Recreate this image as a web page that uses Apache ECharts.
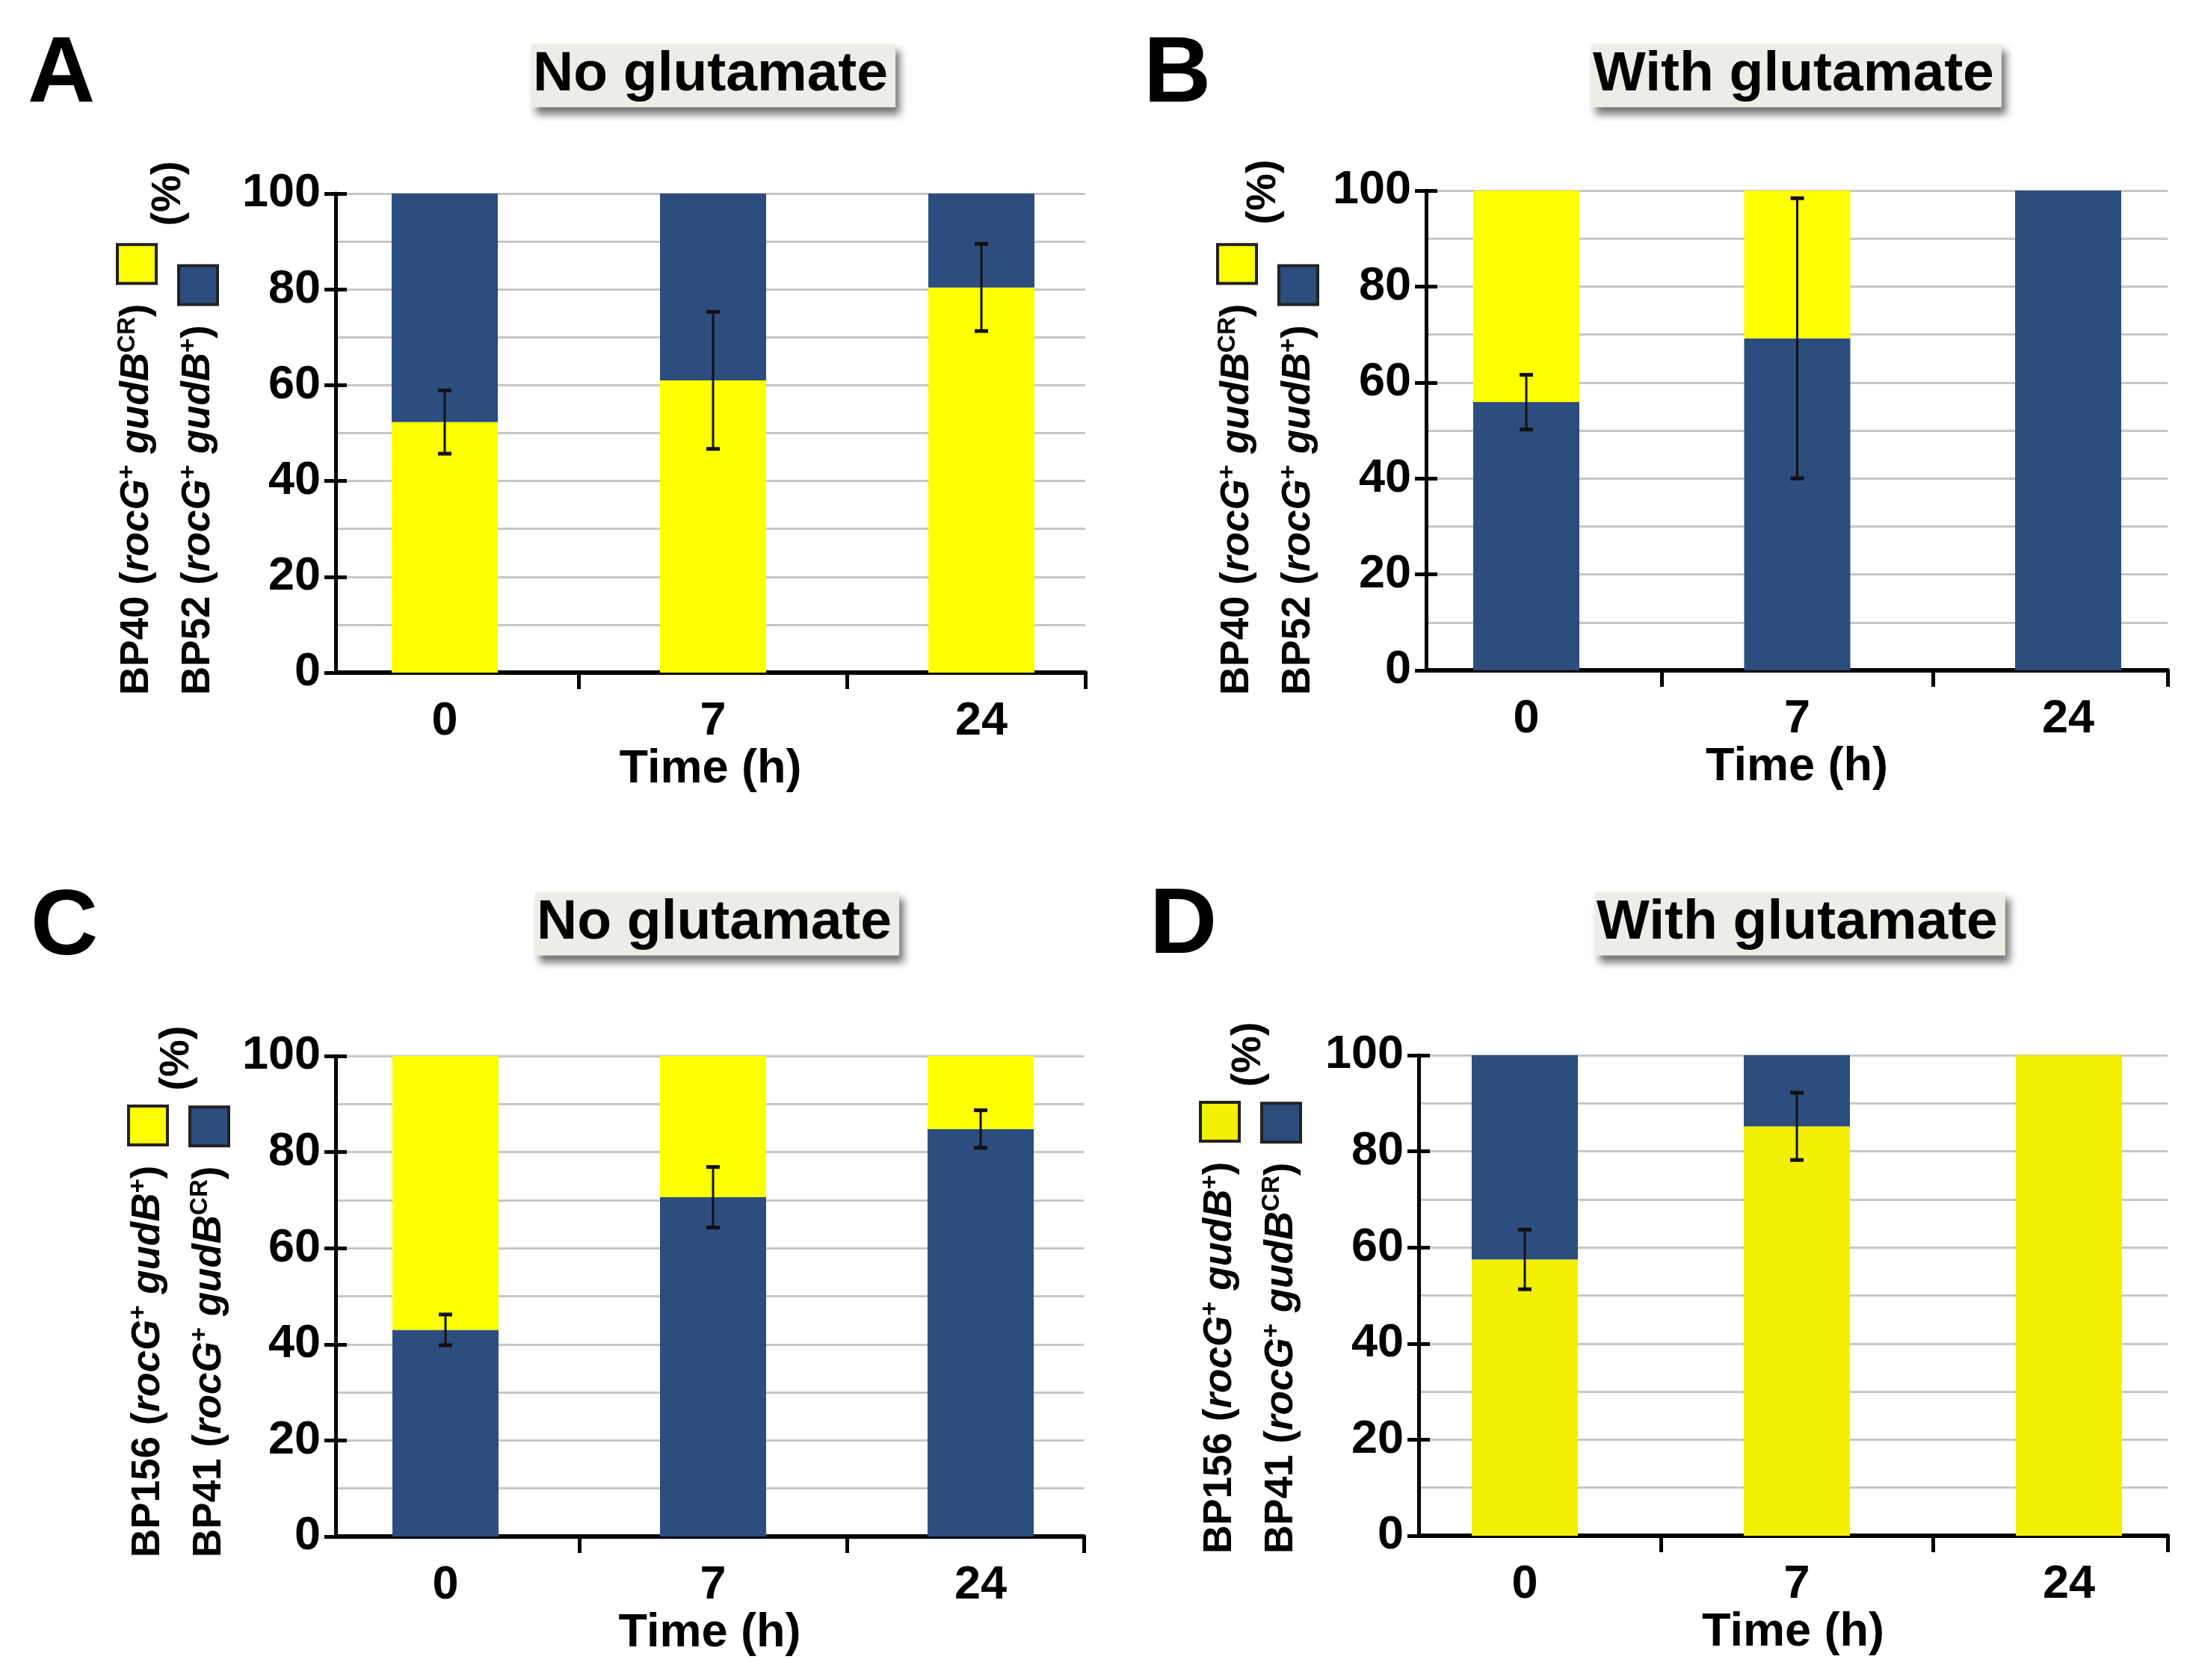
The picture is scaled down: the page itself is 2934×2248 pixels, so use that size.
<!DOCTYPE html>
<html><head><meta charset="utf-8">
<script src="https://cdn.jsdelivr.net/npm/echarts@6/dist/echarts.min.js"></script>
<style>html,body{margin:0;padding:0;background:#fff}#c{width:2934px;height:2248px}</style>
</head><body><div id="c"></div><script>
// ---------- data ----------
const times = ['0', '7', '24'];

// A: No glutamate — BP40 (yellow, bottom) / BP52 (blue, top)
const aBP40 = [52.3, 61.0, 80.4];
const aBP52 = [47.7, 39.0, 19.6];
const aErr  = [6.6, 14.3, 9.1];

// B: With glutamate — BP52 (blue, bottom) / BP40 (yellow, top)
const bBP52 = [55.9, 69.2, 100];
const bBP40 = [44.1, 30.8, 0];
const bErr  = [5.7, 29.2, null];

// C: No glutamate — BP41 (blue, bottom) / BP156 (yellow, top)
const cBP41  = [43.0, 70.6, 84.8];
const cBP156 = [57.0, 29.4, 15.2];
const cErr   = [3.2, 6.3, 3.9];

// D: With glutamate — BP156 (yellow, bottom) / BP41 (blue, top)
const dBP156 = [57.5, 85.2, 100];
const dBP41  = [42.5, 14.8, 0];
const dErr   = [6.2, 7.0, null];

// ---------- styling ----------
const F = '"Liberation Sans", Arial, sans-serif';
const YEL = '#FFFF00', YEL_D = '#F3EF05', BLU = '#2C4D7E';
const GRIDC = '#C6C6C6';
const BAR_W = 142;

const panels = [
  {letter:'A', lx:37,  ly:39,   title:'No glutamate',   tx:711,  ty:60,
   grid:{left:449,  top:259,  width:1003, height:641}, xMin:-0.4067, xMax:2.3872,
   bottom:aBP40, bottomColor:YEL, top:aBP52, topColor:BLU, err:aErr,
   lab:{x:224, y:930, px:226, py:259}, l1:'{n|BP40 (}{i|rocG}{s|+}{n| }{i|gudB}{s|CR}{n|)  }{y|}',
   l2:'{n|BP52 (}{i|rocG}{s|+}{n| }{i|gudB}{s|+}{n|)  }{b|}', yc:YEL},
  {letter:'B', lx:1530, ly:39,  title:'With glutamate', tx:2129, ty:60,
   grid:{left:1908, top:255,  width:992,  height:642}, xMin:-0.3697, xMax:2.3669,
   bottom:bBP52, bottomColor:BLU, top:bBP40, topColor:YEL, err:bErr,
   lab:{x:1696, y:930, px:1691, py:257}, l1:'{n|BP40 (}{i|rocG}{s|+}{n| }{i|gudB}{s|CR}{n|)  }{y|}',
   l2:'{n|BP52 (}{i|rocG}{s|+}{n| }{i|gudB}{s|+}{n|)  }{b|}', yc:YEL},
  {letter:'C', lx:41,  ly:1180, title:'No glutamate',   tx:716,  ty:1195,
   grid:{left:449,  top:1413, width:1001, height:643}, xMin:-0.4106, xMax:2.3855,
   bottom:cBP41, bottomColor:BLU, top:cBP156, topColor:YEL, err:cErr,
   lab:{x:239, y:2084, px:237, py:1416}, l1:'{n|BP156 (}{i|rocG}{s|+}{n| }{i|gudB}{s|+}{n|)  }{y|}',
   l2:'{n|BP41 (}{i|rocG}{s|+}{n| }{i|gudB}{s|CR}{n|)  }{b|}', yc:YEL},
  {letter:'D', lx:1538, ly:1178, title:'With glutamate', tx:2134, ty:1195,
   grid:{left:1898, top:1412, width:1002, height:643}, xMin:-0.3901, xMax:2.3626,
   bottom:dBP156, bottomColor:YEL_D, top:dBP41, topColor:BLU, err:dErr,
   lab:{x:1673, y:2079, px:1671, py:1411}, l1:'{n|BP156 (}{i|rocG}{s|+}{n| }{i|gudB}{s|+}{n|)  }{y|}',
   l2:'{n|BP41 (}{i|rocG}{s|+}{n| }{i|gudB}{s|CR}{n|)  }{b|}', yc:YEL_D}
];

function rich(yc) {
  return {
    n:{fontSize:53, fontWeight:'bold', fontFamily:F, color:'#000', lineHeight:82},
    i:{fontSize:53, fontWeight:'bold', fontStyle:'italic', fontFamily:F, color:'#000', lineHeight:82},
    s:{fontSize:33, fontWeight:'bold', fontFamily:F, color:'#000', verticalAlign:'top', lineHeight:33, padding:[12,0,0,0]},
    y:{width:48, height:48, backgroundColor:yc, borderColor:'#222', borderWidth:4},
    b:{width:48, height:48, backgroundColor:BLU, borderColor:'#222', borderWidth:4}
  };
}

// stacked segment: value(0)=x position, value(1)=segment start, value(2)=segment end
function segRender(params, api) {
  const x = api.value(0), y0 = api.value(1), y1 = api.value(2);
  if (!(y1 > y0)) return null;
  const p0 = api.coord([x, y0]), p1 = api.coord([x, y1]);
  return {type:'rect', shape:{x:p0[0] - BAR_W / 2, y:p1[1], width:BAR_W, height:p0[1] - p1[1]},
    style:api.style()};
}

function errRender(params, api) {
  const x = api.value(0), y = api.value(1), e = api.value(2);
  if (e == null || isNaN(e) || e === 0) return null;
  const t = api.coord([x, y + e]), b = api.coord([x, y - e]);
  const hw = 9;
  const st = {stroke:'#111', lineWidth:3};
  const cap = {stroke:'#111', lineWidth:5};
  return {type:'group', children:[
    {type:'line', shape:{x1:t[0], y1:t[1], x2:b[0], y2:b[1]}, style:st},
    {type:'line', shape:{x1:t[0]-hw, y1:t[1], x2:t[0]+hw, y2:t[1]}, style:cap},
    {type:'line', shape:{x1:b[0]-hw, y1:b[1], x2:b[0]+hw, y2:b[1]}, style:cap}
  ]};
}

const grid = [], xAxis = [], yAxis = [], series = [], title = [], graphic = [];
panels.forEach((p, gi) => {
  grid.push(Object.assign({containLabel:false}, p.grid));
  xAxis.push({
    gridIndex:gi, type:'value', min:p.xMin, max:p.xMax, position:'bottom',
    axisLine:{show:true, onZero:false, lineStyle:{color:'#000', width:6}},
    axisTick:{show:true, length:22, customValues:[0.5, 1.5, p.xMax], lineStyle:{color:'#000', width:5}},
    axisLabel:{customValues:[0, 1, 2], formatter:v => times[Math.round(v)],
      color:'#000', fontSize:63, fontWeight:'bold', fontFamily:F, margin:34},
    splitLine:{show:false},
    name:'Time (h)', nameLocation:'middle', nameGap:98,
    nameTextStyle:{color:'#000', fontSize:63, fontWeight:'bold', fontFamily:F}
  });
  yAxis.push({
    gridIndex:gi, type:'value', min:0, max:100, interval:20, position:'left',
    axisLine:{show:true, onZero:false, lineStyle:{color:'#000', width:5}},
    axisTick:{show:true, length:15, lineStyle:{color:'#000', width:5}},
    axisLabel:{color:'#000', fontSize:63, fontWeight:'bold', fontFamily:F, margin:20},
    splitLine:{show:true, lineStyle:{color:GRIDC, width:3}},
    minorTick:{show:false, splitNumber:2},
    minorSplitLine:{show:true, lineStyle:{color:GRIDC, width:3}}
  });
  yAxis.push({
    gridIndex:gi, type:'value', min:0, max:100, interval:20, position:'left',
    axisLine:{show:false, onZero:false},
    axisTick:{show:true, inside:true, length:15, lineStyle:{color:'#000', width:5}},
    axisLabel:{show:false}, splitLine:{show:false}
  });
  const yi = gi * 2;
  series.push({
    type:'custom', name:'bottom' + gi, xAxisIndex:gi, yAxisIndex:yi, renderItem:segRender, z:3,
    itemStyle:{color:p.bottomColor}, encode:{x:0, y:[1, 2]},
    data:p.bottom.map((v, i) => [i, 0, v]), animation:false
  });
  series.push({
    type:'custom', name:'top' + gi, xAxisIndex:gi, yAxisIndex:yi, renderItem:segRender, z:3,
    itemStyle:{color:p.topColor}, encode:{x:0, y:[1, 2]},
    data:p.top.map((v, i) => [i, p.bottom[i], p.bottom[i] + v]), animation:false
  });
  series.push({
    type:'custom', xAxisIndex:gi, yAxisIndex:yi, renderItem:errRender, z:10,
    encode:{x:0, y:1}, data:p.err.map((e, i) => [i, p.bottom[i], e]), animation:false
  });
  title.push({text:p.letter, left:p.lx, top:p.ly, padding:0,
    textStyle:{fontSize:125, fontWeight:'bold', fontFamily:F, color:'#000'}});
  title.push({text:p.title, left:p.tx, top:p.ty, padding:[4, 10, 6, 2],
    backgroundColor:'#EDEDE7', shadowColor:'rgba(0,0,0,0.55)', shadowBlur:10, shadowOffsetX:6, shadowOffsetY:9,
    textStyle:{fontSize:75, fontWeight:'bold', fontFamily:F, color:'#000', lineHeight:72}});
  graphic.push({type:'text', x:p.lab.x, y:p.lab.y, rotation:Math.PI / 2,
    style:{text:p.l1 + '\n' + p.l2, rich:rich(p.yc), align:'left', verticalAlign:'middle',
      fontSize:53, fontWeight:'bold', fontFamily:F, fill:'#000'}});
  graphic.push({type:'text', x:p.lab.px, y:p.lab.py, rotation:Math.PI / 2,
    style:{text:'(%)', align:'center', verticalAlign:'middle',
      fontSize:56, fontWeight:'bold', fontFamily:F, fill:'#000'}});
});

const chart = echarts.init(document.getElementById('c'), null, {renderer:'canvas'});
chart.setOption({backgroundColor:'#fff', animation:false, title, grid, xAxis, yAxis, series, graphic});
</script></body></html>
